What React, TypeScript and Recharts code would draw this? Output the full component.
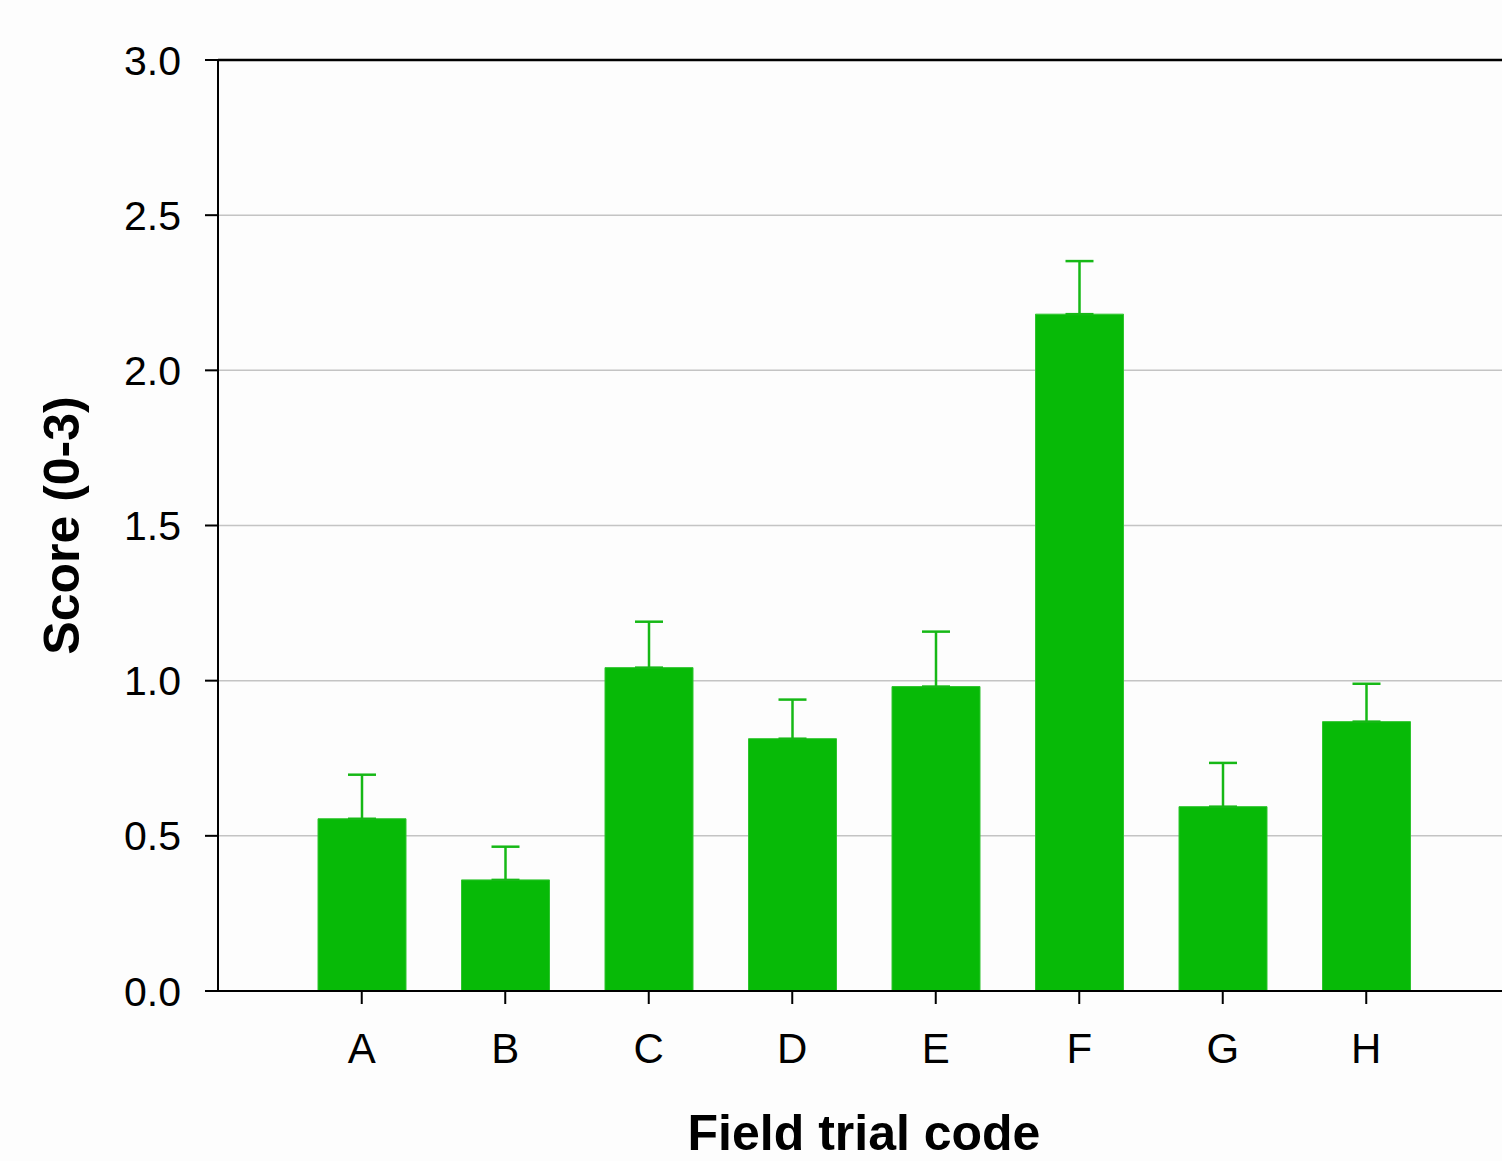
import React from 'react';
import { BarChart, Bar, XAxis, YAxis, CartesianGrid, ErrorBar, ReferenceLine, Label } from 'recharts';

const categories = ['A', 'B', 'C', 'D', 'E', 'F', 'G', 'H'];
const scores = [0.555, 0.358, 1.042, 0.813, 0.981, 2.181, 0.594, 0.868];
const upperErrors = [0.142, 0.107, 0.148, 0.126, 0.177, 0.171, 0.141, 0.122];
const yTicks = [0, 0.5, 1.0, 1.5, 2.0, 2.5, 3.0];

const data = categories.map((code, i) => ({
  code,
  score: scores[i],
  err: [0, upperErrors[i]],
}));

const FONT = '"Liberation Sans", Arial, Helvetica, sans-serif';

const YTitle = (props: any) => {
  const { viewBox } = props;
  const cx = viewBox.x + 62;
  const cy = viewBox.y + viewBox.height / 2;
  return (
    <text
      x={cx}
      y={cy}
      transform={`rotate(-90, ${cx}, ${cy})`}
      textAnchor="middle"
      dominantBaseline="central"
      fontFamily={FONT}
      fontWeight="bold"
      fontSize={50}
      fill="#000"
    >
      Score (0-3)
    </text>
  );
};

const XTitle = (props: any) => {
  const { viewBox } = props;
  const cx = viewBox.x + viewBox.width / 2;
  // baseline a few px above the reference so the text box stays inside the page
  const baseY = viewBox.y + 159;
  return (
    <text
      x={cx}
      y={baseY}
      textAnchor="middle"
      fontFamily={FONT}
      fontWeight="bold"
      fontSize={50}
      fill="#000"
    >
      Field trial code
    </text>
  );
};

export default function App() {
  return (
    <div
      style={{
        position: 'absolute',
        left: 0,
        top: 0,
        width: 1502,
        height: 1161,
        overflow: 'hidden',
        background: '#fdfdfd',
      }}
    >
      <BarChart
        width={1510}
        height={1161}
        data={data}
        margin={{ top: 60, right: 0, bottom: 0, left: 0 }}
        barSize={88}
      >
        <CartesianGrid vertical={false} stroke="#c4c4c4" strokeWidth={1.5} />
        <XAxis
          dataKey="code"
          height={170}
          padding={{ left: 72, right: 72 }}
          axisLine={{ stroke: '#000', strokeWidth: 2 }}
          tickLine={{ stroke: '#000', strokeWidth: 2 }}
          tickSize={13}
          tickMargin={29}
          tick={{ fontFamily: FONT, fontSize: 42, fill: '#000' }}
        >
          <Label content={<XTitle />} />
        </XAxis>
        <YAxis
          width={218}
          domain={[0, 3]}
          ticks={yTicks}
          tickFormatter={(v: number) => v.toFixed(1)}
          axisLine={{ stroke: '#000', strokeWidth: 2 }}
          tickLine={{ stroke: '#000', strokeWidth: 2 }}
          tickSize={13}
          tickMargin={24}
          tick={{ fontFamily: FONT, fontSize: 41, fill: '#000' }}
        >
          <Label content={<YTitle />} />
        </YAxis>
        <ReferenceLine y={3} stroke="#000" strokeWidth={2.5} />
        <Bar dataKey="score" fill="#07ba07" stroke="#2ec42e" strokeWidth={1} isAnimationActive={false}>
          <ErrorBar dataKey="err" width={14} stroke="#16b816" strokeWidth={2.5} direction="y" />
        </Bar>
      </BarChart>
    </div>
  );
}
